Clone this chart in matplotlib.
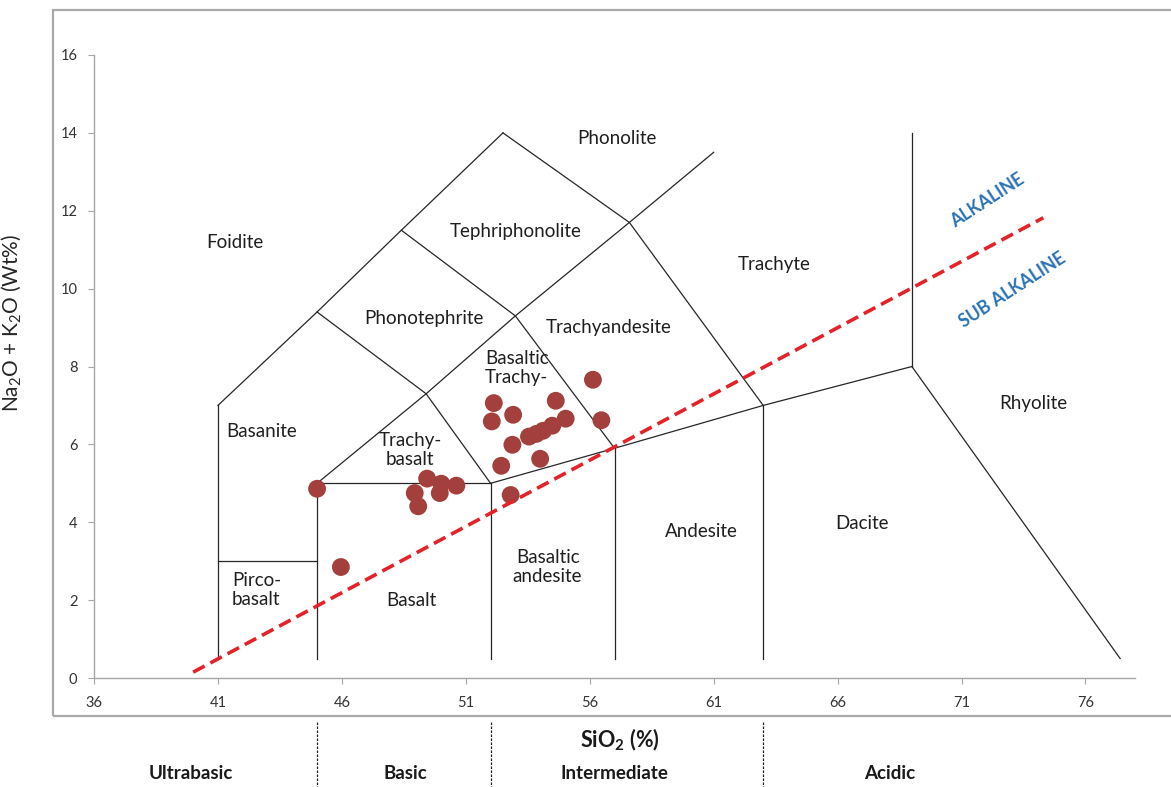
import matplotlib
matplotlib.use("Agg")
import matplotlib.pyplot as plt
from matplotlib.patches import Rectangle

plt.rcParams["font.family"] = ["Lato", "DejaVu Sans"]
plt.rcParams["mathtext.fontset"] = "custom"
plt.rcParams["mathtext.rm"] = "Lato"
plt.rcParams["mathtext.it"] = "Lato:italic"
plt.rcParams["mathtext.bf"] = "Lato:bold"

# --- TAS field boundaries (SiO2, Na2O+K2O) ---
boundary_segments = [
    [(41, 0.5), (41, 7)],
    [(41, 7), (45, 9.4), (48.4, 11.5), (52.5, 14)],
    [(41, 3), (45, 3)],
    [(45, 0.5), (45, 5), (52, 5)],
    [(52, 0.5), (52, 5)],
    [(45, 5), (49.4, 7.3), (53, 9.3), (57.6, 11.7), (61, 13.5)],
    [(45, 9.4), (49.4, 7.3), (52, 5)],
    [(48.4, 11.5), (53, 9.3), (57, 5.9)],
    [(52.5, 14), (57.6, 11.7), (63, 7)],
    [(52, 5), (57, 5.9), (63, 7), (69, 8)],
    [(57, 0.5), (57, 5.9)],
    [(63, 0.5), (63, 7)],
    [(69, 8), (69, 14)],
    [(69, 8), (77.4, 0.5)],
]

# --- Field names and label positions ---
field_names = ["Phonolite", "Foidite", "Tephriphonolite", "Trachyte", "Phonotephrite",
               "Trachyandesite", "Basaltic\nTrachy-", "Basanite", "Trachy-\nbasalt",
               "Rhyolite", "Dacite", "Andesite", "Basaltic\nandesite", "Basalt",
               "Pirco-\nbasalt"]
field_x = [57.1, 41.7, 53.0, 63.45, 49.3, 56.75, 53.05, 42.75, 48.75,
           73.9, 67.0, 60.5, 54.3, 48.8, 42.55]
field_y = [13.86, 11.18, 11.47, 10.62, 9.23, 9.0, 7.97, 6.32, 5.86,
           7.04, 3.98, 3.75, 2.85, 1.98, 2.26]

# --- Alkaline / sub-alkaline divide ---
divide_x = [40.0, 74.3]
divide_y = [0.15, 11.82]

# --- Samples ---
sio2 = [45.0, 45.96, 49.44, 50.01, 50.62, 49.95, 48.94, 49.08,
        56.13, 52.13, 54.63, 52.05, 52.91, 55.03, 56.47, 54.49,
        54.12, 53.85, 53.55, 52.88, 54.0, 52.43, 52.81]
alkali = [4.86, 2.85, 5.12, 4.99, 4.94, 4.75, 4.75, 4.41,
          7.66, 7.06, 7.12, 6.59, 6.76, 6.66, 6.62, 6.48,
          6.35, 6.27, 6.20, 5.99, 5.63, 5.45, 4.70]

# --- Silica classes below the axis ---
class_bounds = [45, 52, 63]
class_names = ["Ultrabasic", "Basic", "Intermediate", "Acidic"]
class_x = [39.9, 48.55, 57.0, 68.1]

x_ticks = [36, 41, 46, 51, 56, 61, 66, 71, 76]
y_ticks = [0, 2, 4, 6, 8, 10, 12, 14, 16]

W, H = 1171, 787
fig = plt.figure(figsize=(W / 100, H / 100), dpi=100)
fig.patch.set_facecolor("white")

# outer frame
fig.patches.append(Rectangle((53 / W, 1 - 716 / H), 1.2, (716 - 10) / H,
                             transform=fig.transFigure, fill=False,
                             edgecolor="#a9a9a9", linewidth=1.6, zorder=0))

ax = fig.add_axes([94 / W, 1 - 678 / H, (1135 - 94) / W, (678 - 55) / H])
ax.set_xlim(36, 78)
ax.set_ylim(0, 16)
ax.set_xticks(x_ticks)
ax.set_yticks(y_ticks)
for side in ("top", "right"):
    ax.spines[side].set_visible(False)
for side in ("left", "bottom"):
    ax.spines[side].set_color("#a6a6a6")
    ax.spines[side].set_linewidth(1.0)
ax.tick_params(axis="both", direction="out", length=4, width=0.8, color="#a6a6a6",
               labelsize=10.5, labelcolor="#333333")
ax.tick_params(axis="y", pad=8)
ax.tick_params(axis="x", pad=9)

for seg in boundary_segments:
    xs = [p[0] for p in seg]
    ys = [p[1] for p in seg]
    ax.plot(xs, ys, color="#262626", linewidth=0.9, zorder=2)

for name, x, y in zip(field_names, field_x, field_y):
    ax.text(x, y, name, ha="center", va="center", fontsize=13.5,
            color="#1f1f1f", linespacing=1.15, zorder=3)

ax.plot(divide_x, divide_y, color="#e3222a", linewidth=2.6,
        dashes=(3.6, 1.8), zorder=5, solid_capstyle="butt")

ax.scatter(sio2, alkali, s=165, color="#a3403d", edgecolors="none", zorder=4)

ax.text(72.05, 12.26, "ALKALINE", rotation=33, ha="center", va="center",
        fontsize=12.8, fontweight="bold", color="#2a72b5")
ax.text(73.06, 9.97, "SUB ALKALINE", rotation=33, ha="center", va="center",
        fontsize=12.8, fontweight="bold", color="#2a72b5")

ax.set_ylabel(r"Na$_{\mathregular{2}}$O + K$_{\mathregular{2}}$O (Wt%)",
              fontsize=15, color="#262626")
ax.yaxis.set_label_coords(-0.068, 0.57)

fig.text(620 / W, 1 - 740 / H, r"SiO$_{\mathbf{2}}$ (%)", ha="center", va="center",
         fontsize=15.5, fontweight="bold", color="#1a1a1a")

for b in class_bounds:
    ax.plot([b, b], [-1.13, -2.85], color="#262626", linewidth=0.9,
            linestyle=(0, (2, 1.2)), clip_on=False)
for name, x in zip(class_names, class_x):
    ax.text(x, -2.45, name, ha="center", va="center", fontsize=13.5,
            fontweight="bold", color="#1a1a1a", clip_on=False)

fig.savefig("out.png", dpi=100)
